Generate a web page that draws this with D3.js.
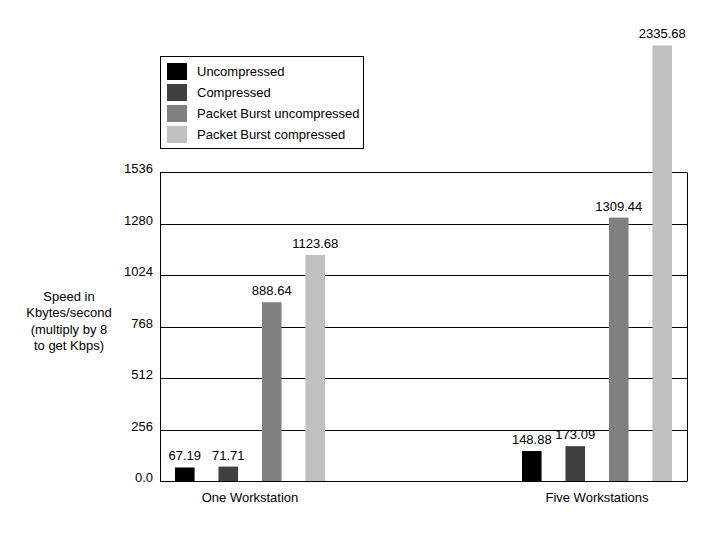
<!DOCTYPE html>
<html>
<head>
<meta charset="utf-8">
<script src="https://cdn.jsdelivr.net/npm/d3@7"></script>
<style>
  body { margin: 0; background: #fff; }
  text { font-family: "Liberation Sans", Arial, Helvetica, sans-serif; font-size: 13px; fill: #000; }
</style>
</head>
<body>
<svg id="chart" width="724" height="535"></svg>
<script>
// Données
const groups = ["One Workstation", "Five Workstations"];
const series = ["Uncompressed", "Compressed", "Packet Burst uncompressed", "Packet Burst compressed"];
const oneWorkstation = [67.19, 71.71, 888.64, 1123.68];
const fiveWorkstations = [148.88, 173.09, 1309.44, 2335.68];
const yTicks = [0, 256, 512, 768, 1024, 1280, 1536];
const yTickLabels = ["0.0", "256", "512", "768", "1024", "1280", "1536"];
const yTitle = ["Speed in", "Kbytes/second", "(multiply by 8", "to get Kbps)"];
const colors = ["#000000", "#404040", "#808080", "#c0c0c0"];

const width = 724;
const height = 535;
const plot = { left: 160, right: 687, top: 172, bottom: 481 };
const barCap = 2165; // la barre la plus haute est tronquée dans l'original

const svg = d3.select("#chart");

const rows = groups.map((g, i) => ({
  group: g,
  values: [oneWorkstation, fiveWorkstations][i]
}));

const y = d3.scaleLinear().domain([0, 1536]).range([plot.bottom, plot.top]);

const x0 = d3.scaleBand()
  .domain(groups)
  .range([175, 672])
  .paddingInner(0.5677)
  .paddingOuter(0);

const x1 = d3.scaleBand()
  .domain(series)
  .range([0, x0.bandwidth()])
  .paddingInner(0.55)
  .paddingOuter(0);

const color = d3.scaleOrdinal().domain(series).range(colors);

// Grille horizontale
svg.append("g")
  .selectAll("line")
  .data(yTicks)
  .enter().append("line")
  .attr("x1", plot.left)
  .attr("x2", plot.right)
  .attr("y1", d => Math.round(y(d)) + 0.5)
  .attr("y2", d => Math.round(y(d)) + 0.5)
  .attr("stroke", "#000")
  .attr("stroke-width", 1);

// Cadre gauche et droit
svg.append("line")
  .attr("x1", plot.left + 0.5).attr("x2", plot.left + 0.5)
  .attr("y1", Math.round(y(1536)) + 0.5).attr("y2", Math.round(y(0)) + 0.5)
  .attr("stroke", "#000");
svg.append("line")
  .attr("x1", plot.right + 0.5).attr("x2", plot.right + 0.5)
  .attr("y1", Math.round(y(1536)) + 0.5).attr("y2", Math.round(y(0)) + 0.5)
  .attr("stroke", "#000");

// Étiquettes de l'axe Y
svg.append("g")
  .selectAll("text")
  .data(yTicks)
  .enter().append("text")
  .attr("x", 153)
  .attr("y", d => y(d) + 1)
  .attr("text-anchor", "end")
  .text((d, i) => yTickLabels[i]);

// Titre de l'axe Y
svg.append("text")
  .attr("text-anchor", "middle")
  .selectAll("tspan")
  .data(yTitle)
  .enter().append("tspan")
  .attr("x", 69)
  .attr("y", (d, i) => 301 + i * 16.3)
  .text(d => d);

// Barres
const group = svg.selectAll("g.group")
  .data(rows)
  .enter().append("g")
  .attr("class", "group")
  .attr("transform", d => `translate(${x0(d.group)},0)`);

const bar = group.selectAll("g.bar")
  .data(d => d.values.map((v, i) => ({ key: series[i], value: v })))
  .enter().append("g")
  .attr("class", "bar");

bar.append("rect")
  .attr("x", d => x1(d.key))
  .attr("width", x1.bandwidth())
  .attr("y", d => y(Math.min(d.value, barCap)))
  .attr("height", d => y(0) - y(Math.min(d.value, barCap)))
  .attr("fill", d => color(d.key));

bar.append("text")
  .attr("x", d => x1(d.key) + x1.bandwidth() / 2)
  .attr("y", d => y(Math.min(d.value, barCap)) - 7)
  .attr("text-anchor", "middle")
  .text(d => d3.format(".2f")(d.value));

// Libellés des groupes
svg.append("g")
  .selectAll("text")
  .data(groups)
  .enter().append("text")
  .attr("x", d => x0(d) + x0.bandwidth() / 2)
  .attr("y", 502)
  .attr("text-anchor", "middle")
  .text(d => d);

// Légende
const legend = svg.append("g").attr("transform", "translate(160,56)");

legend.append("rect")
  .attr("x", 0.5).attr("y", 0.5)
  .attr("width", 203).attr("height", 92)
  .attr("fill", "#fff")
  .attr("stroke", "#000");

const legendItems = legend.selectAll("g.item")
  .data(series)
  .enter().append("g")
  .attr("class", "item")
  .attr("transform", (d, i) => `translate(7, ${7 + i * 21})`);

legendItems.append("rect")
  .attr("width", 20)
  .attr("height", 17)
  .attr("fill", d => color(d));

legendItems.append("text")
  .attr("x", 30)
  .attr("y", 13)
  .text(d => d);
</script>
</body>
</html>
